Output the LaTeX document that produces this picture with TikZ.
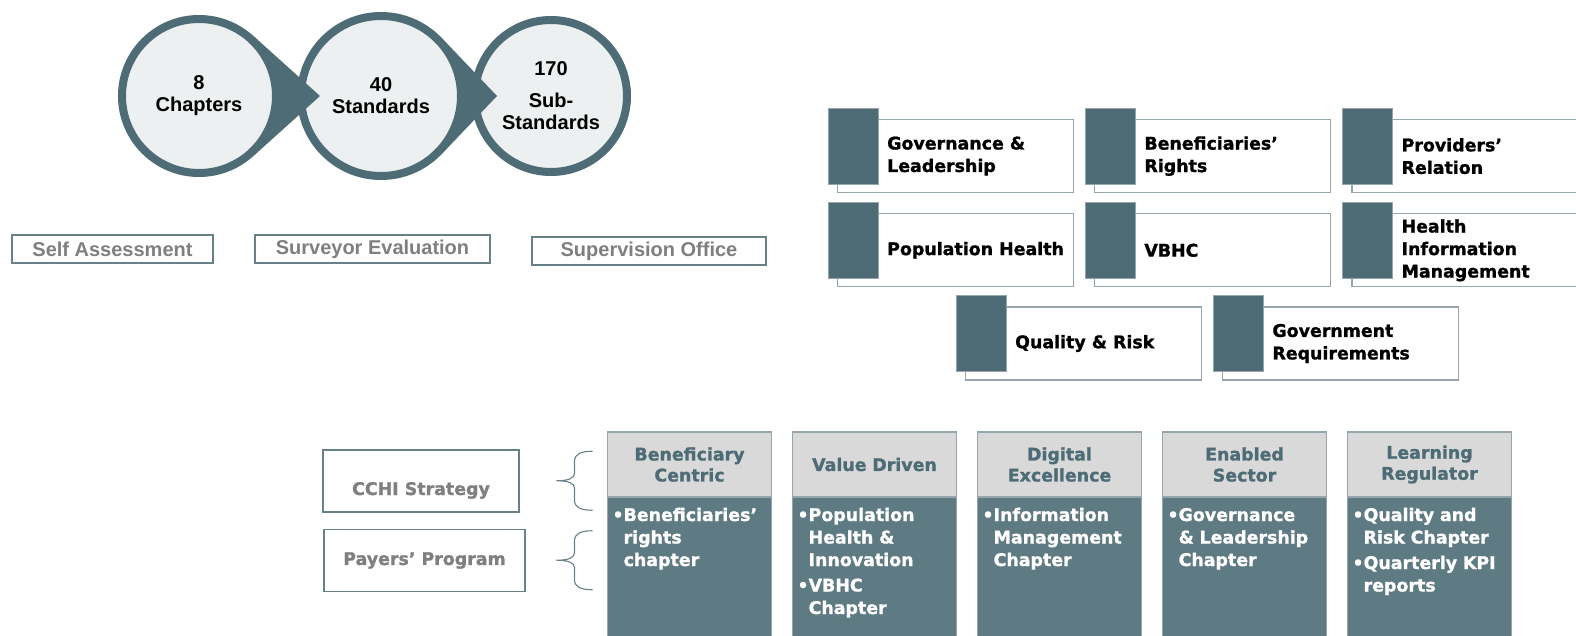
\documentclass[tikz,border=0pt]{standalone}
\usepackage{fontspec}
\setmainfont{Liberation Sans}
\newfontfamily\heavyfont{DejaVu Sans}[BoldFeatures={FakeBold=1.2}]
\usetikzlibrary{positioning, calc}

\definecolor{slate}{RGB}{78,108,117}
\definecolor{slatebody}{RGB}{94,122,130}
\definecolor{slateline}{RGB}{104,128,136}
\definecolor{boxline}{RGB}{150,165,171}
\definecolor{bubblefill}{RGB}{237,240,240}
\definecolor{headgray}{RGB}{217,217,217}
\definecolor{labelgray}{RGB}{127,127,127}

\tikzstyle{bubble} = [circle, draw=slate, line width=8pt, fill=bubblefill, align=center, font=\bfseries\fontsize{20}{22}\selectfont]
\tikzstyle{stage} = [rectangle, draw=slateline, line width=2pt, text=labelgray, minimum height=28pt, font=\bfseries\fontsize{20}{24}\selectfont]
\tikzstyle{chapbox} = [rectangle, draw=boxline, line width=1.2pt, fill=white, minimum width=236pt, minimum height=73pt, anchor=north west]
\tikzstyle{chapsq} = [rectangle, fill=slate, draw=boxline, line width=0.6pt, minimum width=50pt, minimum height=76pt, inner sep=0pt, anchor=north west]
\tikzstyle{chaptext} = [align=left, anchor=west, inner sep=0pt, font=\heavyfont\bfseries\fontsize{17.4}{22.5}\selectfont]
\tikzstyle{program} = [rectangle, draw=slateline, line width=1.5pt, text=labelgray, minimum height=62pt, font=\heavyfont\bfseries\fontsize{17.4}{22}\selectfont]
\tikzstyle{pillarhead} = [rectangle, draw=boxline, line width=1.5pt, fill=headgray, text=slate, text width=154pt, inner xsep=5pt, minimum height=65pt, align=center, outer sep=0pt, font=\heavyfont\bfseries\fontsize{17.4}{21}\selectfont]
\tikzstyle{pillarbody} = [rectangle, draw=boxline, line width=1.5pt, fill=slatebody, text=white, text width=154pt, inner xsep=5pt, inner ysep=0pt, text height=24pt, text depth=122pt, align=left, outer sep=0pt, font=\heavyfont\bfseries\fontsize{17.4}{22.5}\selectfont]

% curly bracket opening to the right, tip on the left
\tikzset{pics/curly/.style={code={
  \draw[slateline, line width=1.1pt] (0,0) .. controls (-12,0) and (-18,3) .. (-18,10) -- (-18,22)
    .. controls (-18,27) and (-24,29.5) .. (-36,29.5) .. controls (-24,29.5) and (-18,32) .. (-18,37)
    -- (-18,49) .. controls (-18,56) and (-12,59) .. (0,59);
}}}

\begin{document}
\begin{tikzpicture}[x=1pt, y=-1pt]
\path[use as bounding box, fill=white] (0,0) rectangle (1576,636);
\clip (0,0) rectangle (1576,636);

% counts
\node (chaps) [bubble, minimum size=154pt] at (199,96) {8\\Chapters};
\node (stds) [bubble, minimum size=160pt, right=17pt of chaps] {40\\Standards};
\node (subs) [bubble, minimum size=152pt, right=6pt of stds] {170\\[10pt]Sub-\\Standards};
\fill[slate] (chaps.48) -- ($(chaps.center)+(121,0)$) -- (chaps.-48) -- (chaps.-24) -- (chaps.0) -- (chaps.24) -- cycle;
\fill[slate] (stds.44) -- ($(stds.center)+(116,0)$) -- (stds.-44) -- (stds.-22) -- (stds.0) -- (stds.22) -- cycle;

% assessment stages
\node (self) [stage, minimum width=201pt] at (112.5,249) {Self Assessment};
\node (surv) [stage, minimum width=235pt, right=40pt of self] {Surveyor Evaluation};
\node (supv) [stage, minimum width=234pt, right=40pt of surv, yshift=-2pt] {Supervision Office};

% chapters
\node (govbox) [chapbox] at (837,119) {};
\node (benbox) [chapbox, right=20pt of govbox] {};
\node (probox) [chapbox, right=20pt of benbox] {};
\node (popbox) [chapbox, below=20pt of govbox] {};
\node (vbhcbox) [chapbox, right=20pt of popbox] {};
\node (himbox) [chapbox, right=20pt of vbhcbox] {};
\node (qrbox) [chapbox, below=19pt of popbox, xshift=128pt] {};
\node (govtbox) [chapbox, right=20pt of qrbox] {};

\node (govsq) [chapsq] at ($(govbox.north west)+(-9,-11)$) {};
\node (bensq) [chapsq] at ($(benbox.north west)+(-9,-11)$) {};
\node (prosq) [chapsq] at ($(probox.north west)+(-9,-11)$) {};
\node (popsq) [chapsq] at ($(popbox.north west)+(-9,-11)$) {};
\node (vbhcsq) [chapsq] at ($(vbhcbox.north west)+(-9,-11)$) {};
\node (himsq) [chapsq] at ($(himbox.north west)+(-9,-11)$) {};
\node (qrsq) [chapsq] at ($(qrbox.north west)+(-9,-11)$) {};
\node (govtsq) [chapsq] at ($(govtbox.north west)+(-9,-11)$) {};

\node (gov) [chaptext] at ($(govbox.west)+(50,0)$) {Governance \&\\Leadership};
\node (ben) [chaptext] at ($(benbox.west)+(50,0)$) {Beneficiaries’\\Rights};
\node (pro) [chaptext] at ($(probox.west)+(50,0)$) {Providers’\\Relation};
\node (pop) [chaptext] at ($(popbox.west)+(50,0)$) {Population Health};
\node (vbhc) [chaptext] at ($(vbhcbox.west)+(50,0)$) {VBHC};
\node (him) [chaptext] at ($(himbox.west)+(50,0)$) {Health\\Information\\Management};
\node (qr) [chaptext] at ($(qrbox.west)+(50,0)$) {Quality \& Risk};
\node (govt) [chaptext] at ($(govtbox.west)+(50,0)$) {Government\\Requirements};

% strategy pillars
\node (cchi) [program, minimum width=196pt, text height=28pt, text depth=0pt] at (421,481) {CCHI Strategy};
\node (payer) [program, minimum width=201pt, below=16pt of cchi, xshift=3.5pt] {Payers’ Program};

\node (bene) [pillarhead] at (689.5,464.5) {Beneficiary\\Centric};
\node (value) [pillarhead, right=21pt of bene] {Value Driven};
\node (digital) [pillarhead, right=21pt of value] {Digital\\Excellence};
\node (enabled) [pillarhead, right=21pt of digital] {Enabled\\Sector};
\node (learning) [pillarhead, right=21pt of enabled] {Learning\\Regulator};

\node (benelist) [pillarbody, below=0pt of bene] {\begin{tabular}[t]{@{}l@{}l@{}}•&Beneficiaries’\\&rights\\&chapter\end{tabular}};
\node (valuelist) [pillarbody, below=0pt of value] {\begin{tabular}[t]{@{}l@{}l@{}}•&Population\\&Health \&\\&Innovation\\[3pt]•&VBHC\\&Chapter\end{tabular}};
\node (digitallist) [pillarbody, below=0pt of digital] {\begin{tabular}[t]{@{}l@{}l@{}}•&Information\\&Management\\&Chapter\end{tabular}};
\node (enabledlist) [pillarbody, below=0pt of enabled] {\begin{tabular}[t]{@{}l@{}l@{}}•&Governance\\&\& Leadership\\&Chapter\end{tabular}};
\node (learninglist) [pillarbody, below=0pt of learning] {\begin{tabular}[t]{@{}l@{}l@{}}•&Quality and\\&Risk Chapter\\[3pt]•&Quarterly KPI\\&reports\end{tabular}};

\coordinate (cchibrace) at ($(cchi.north -| bene.west)+(-15,2)$);
\coordinate (payerbrace) at ($(payer.north -| bene.west)+(-15,2)$);
\pic at (cchibrace) {curly};
\pic at (payerbrace) {curly};
\end{tikzpicture}
\end{document}
